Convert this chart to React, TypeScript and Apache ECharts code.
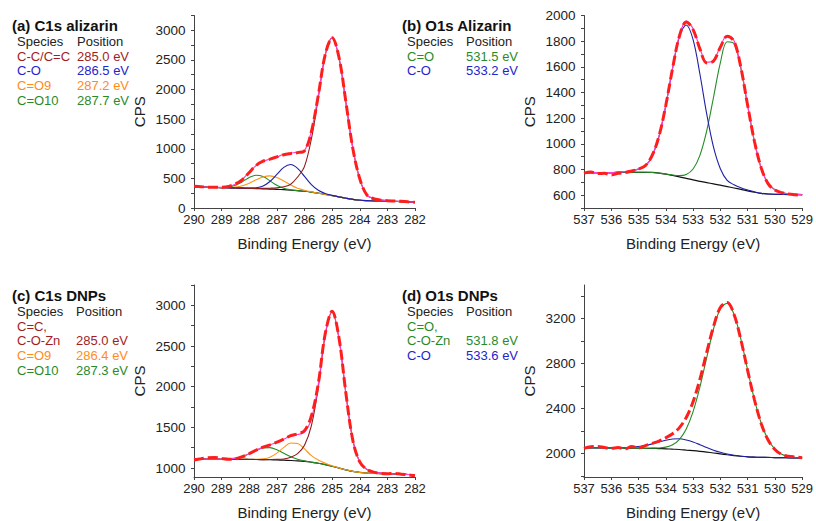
import React, { useEffect, useRef } from "react";
import * as echarts from "echarts";

const FONT = '"Liberation Sans", Arial, Helvetica, sans-serif';

// Binding energies (eV)
const beC1s = [290, 289.75, 289.5, 289.25, 289, 288.75, 288.5, 288.25, 288, 287.75, 287.5, 287.25, 287, 286.75, 286.5, 286.25, 286, 285.75, 285.5, 285.25, 285, 284.75, 284.5, 284.25, 284, 283.75, 283.5, 283.25, 283, 282.75, 282.5, 282.25, 282];
const beO1s = [537, 536.75, 536.5, 536.25, 536, 535.75, 535.5, 535.25, 535, 534.75, 534.5, 534.25, 534, 533.75, 533.5, 533.25, 533, 532.75, 532.5, 532.25, 532, 531.75, 531.5, 531.25, 531, 530.75, 530.5, 530.25, 530, 529.75, 529.5, 529.25, 529];

// (a) C1s alizarin
const bgA = [356, 353, 350, 347, 344, 341, 338, 335, 332, 328, 324, 320, 315, 309, 302, 293, 283, 268, 250, 230, 210, 188, 165, 145, 132, 125, 121, 118, 116, 112, 108, 103, 98];
const ccA = [356, 353, 350, 347, 344, 341, 338, 335, 332, 332, 332, 334, 340, 359, 402, 523, 703, 1168, 1863, 2577, 2870, 2535, 1778, 1009, 492, 220, 161, 136, 124, 116, 110, 103, 98];
const coA = [356, 353, 350, 347, 344, 341, 338, 335, 335, 342, 373, 448, 566, 686, 734, 670, 534, 396, 299, 244, 213, 188, 165, 145, 132, 125, 121, 118, 116, 112, 108, 103, 98];
const o9A = [356, 353, 350, 347, 344, 346, 355, 377, 419, 475, 525, 543, 516, 456, 389, 335, 300, 273, 250, 230, 210, 188, 165, 145, 132, 125, 121, 118, 116, 112, 108, 103, 98];
const o10A = [356, 353, 350, 347, 347, 356, 385, 443, 514, 554, 530, 458, 383, 333, 308, 293, 283, 268, 250, 230, 210, 188, 165, 145, 132, 125, 121, 118, 116, 112, 108, 103, 98];
const envA = [356, 353, 350, 347, 347, 361, 402, 485, 604, 719, 788, 823, 860, 907, 927, 942, 971, 1301, 1912, 2591, 2873, 2535, 1778, 1009, 492, 220, 161, 136, 124, 116, 110, 103, 98];
const rawA = [367, 360, 352, 350, 352, 365, 405, 480, 600, 720, 790, 825, 862, 900, 920, 935, 965, 1290, 1905, 2590, 2875, 2540, 1785, 1005, 495, 225, 158, 135, 122, 118, 112, 104, 96];

// (b) O1s alizarin
const bgB = [775, 775, 775, 776, 776, 777, 777, 778, 778, 778, 777, 772, 764, 754, 743, 731, 719, 708, 698, 688, 678, 667, 656, 645, 634, 623, 614, 609, 607, 606, 605, 605, 604];
const coB = [775, 775, 775, 776, 776, 780, 783, 790, 803, 826, 905, 1058, 1299, 1590, 1836, 1926, 1812, 1544, 1233, 974, 806, 715, 681, 657, 640, 626, 614, 609, 607, 606, 605, 605, 604];
const oB = [775, 775, 775, 776, 776, 777, 777, 778, 778, 778, 777, 772, 765, 757, 752, 761, 804, 910, 1101, 1363, 1631, 1796, 1781, 1588, 1298, 1016, 810, 691, 642, 621, 610, 607, 604];
const envB = [775, 775, 775, 776, 776, 780, 783, 790, 803, 826, 905, 1058, 1300, 1593, 1845, 1956, 1897, 1746, 1636, 1649, 1759, 1844, 1806, 1600, 1304, 1019, 810, 691, 642, 621, 610, 607, 604];
const rawB = [772, 780, 768, 770, 758, 770, 776, 788, 804, 830, 910, 1060, 1300, 1590, 1840, 1950, 1890, 1740, 1630, 1645, 1752, 1838, 1800, 1598, 1300, 1020, 812, 690, 640, 620, 610, 603, 596];

// (c) C1s DNPs
const bgC = [1110, 1110, 1109, 1109, 1108, 1108, 1107, 1107, 1106, 1105, 1104, 1102, 1100, 1097, 1093, 1088, 1081, 1071, 1059, 1042, 1022, 1000, 978, 959, 946, 939, 935, 932, 930, 927, 924, 921, 918];
const ccC = [1110, 1110, 1109, 1109, 1108, 1108, 1107, 1107, 1106, 1105, 1104, 1105, 1107, 1112, 1133, 1178, 1281, 1521, 1993, 2630, 2918, 2588, 1912, 1344, 1076, 984, 953, 940, 933, 928, 924, 921, 918];
const o9C = [1110, 1110, 1109, 1109, 1108, 1108, 1107, 1107, 1106, 1107, 1113, 1134, 1183, 1254, 1308, 1302, 1235, 1152, 1099, 1060, 1028, 1002, 978, 959, 946, 939, 935, 932, 930, 927, 924, 921, 918];
const o10C = [1110, 1110, 1109, 1109, 1110, 1113, 1121, 1142, 1176, 1216, 1248, 1251, 1225, 1182, 1139, 1108, 1088, 1073, 1059, 1042, 1022, 1000, 978, 959, 946, 939, 935, 932, 930, 927, 924, 921, 918];
const envC = [1110, 1110, 1109, 1109, 1110, 1113, 1121, 1142, 1176, 1218, 1257, 1286, 1315, 1354, 1394, 1412, 1442, 1604, 2033, 2648, 2924, 2590, 1912, 1344, 1076, 984, 953, 940, 933, 928, 924, 921, 918];
const rawC = [1098, 1115, 1128, 1130, 1118, 1108, 1115, 1140, 1178, 1220, 1258, 1285, 1318, 1356, 1398, 1420, 1460, 1640, 2040, 2650, 2928, 2595, 1915, 1340, 1075, 985, 950, 935, 930, 935, 925, 915, 906];

// (d) O1s DNPs
const bgD = [2050, 2050, 2050, 2050, 2049, 2049, 2048, 2048, 2047, 2046, 2045, 2043, 2041, 2038, 2035, 2030, 2025, 2019, 2012, 2004, 1996, 1988, 1981, 1975, 1970, 1967, 1965, 1964, 1963, 1962, 1961, 1960, 1959];
const oD = [2050, 2050, 2050, 2050, 2049, 2049, 2048, 2048, 2047, 2046, 2047, 2048, 2056, 2077, 2126, 2218, 2372, 2591, 2854, 3108, 3289, 3338, 3239, 3020, 2745, 2480, 2268, 2123, 2038, 1993, 1973, 1964, 1960];
const coD = [2050, 2050, 2050, 2050, 2049, 2050, 2051, 2055, 2061, 2071, 2085, 2102, 2118, 2128, 2130, 2120, 2102, 2078, 2052, 2029, 2010, 1995, 1984, 1975, 1970, 1967, 1965, 1964, 1963, 1962, 1961, 1960, 1959];
const rawD = [2045, 2060, 2062, 2052, 2046, 2052, 2040, 2062, 2048, 2070, 2090, 2110, 2140, 2175, 2230, 2320, 2460, 2660, 2900, 3130, 3300, 3345, 3240, 3015, 2740, 2478, 2265, 2120, 2035, 1990, 1975, 1968, 1962];

// Tick labels
const yLabelsA = [0, 500, 1000, 1500, 2000, 2500, 3000];
const yTicksA = [0, 250, 500, 750, 1000, 1250, 1500, 1750, 2000, 2250, 2500, 2750, 3000, 3250];
const yLabelsB = [600, 800, 1000, 1200, 1400, 1600, 1800, 2000];
const yTicksB = [500, 600, 700, 800, 900, 1000, 1100, 1200, 1300, 1400, 1500, 1600, 1700, 1800, 1900, 2000];
const yLabelsC = [1000, 1500, 2000, 2500, 3000];
const yTicksC = [1000, 1250, 1500, 1750, 2000, 2250, 2500, 2750, 3000, 3250];
const yLabelsD = [2000, 2400, 2800, 3200];
const yTicksD = [1800, 2000, 2200, 2400, 2600, 2800, 3000, 3200, 3400];

// Legend tables
const tableA = [["C-C/C=C", "285.0 eV", "label_brown"], ["C-O", "286.5 eV", "label_blue"], ["C=O9", "287.2 eV", "label_orange"], ["C=O10", "287.7 eV", "label_green"]];
const tableB = [["C=O", "531.5 eV", "label_green"], ["C-O", "533.2 eV", "label_blue"]];
const tableC = [["C=C,", "", "label_brown"], ["C-O-Zn", "285.0 eV", "label_brown"], ["C=O9", "286.4 eV", "label_orange"], ["C=O10", "287.3 eV", "label_green"]];
const tableD = [["C=O,", "", "label_green"], ["C-O-Zn", "531.8 eV", "label_green"], ["C-O", "533.6 eV", "label_blue"]];

const COL: Record<string, string> = {
  brown: "#8c1c1c",
  blue: "#1f1fa6",
  orange: "#ff9414",
  green: "#258c25",
  pink: "#ff3dcc",
  red: "#ff1e1e",
  black: "#111111",
  label_brown: "#a21e1e",
  label_blue: "#2424cc",
  label_orange: "#ff8c1a",
  label_green: "#2a8a2a",
};

const pairs = (xs: number[], ys: number[]) => xs.map((x, i) => [x, ys[i]]);

function ln(idx: number, xs: number[], ys: number[], color: string, width: number, z: number, dashed = false) {
  return {
    type: "line",
    xAxisIndex: idx,
    yAxisIndex: idx,
    data: pairs(xs, ys),
    symbol: "none",
    showSymbol: false,
    smooth: 0.35,
    silent: true,
    z,
    lineStyle: {
      color,
      width,
      type: dashed ? [10, 4] : "solid",
      cap: "butt",
    },
  };
}

const GRIDS = [
  { left: 194, top: 15.5, width: 221, height: 192.5 },
  { left: 584, top: 15.5, width: 221, height: 192.5 },
  { left: 194, top: 285, width: 221, height: 192.5 },
  { left: 584, top: 285, width: 221, height: 192.5 },
];

const plain = (v: number) => String(v);

function xAx(idx: number, min: number, max: number) {
  return {
    gridIndex: idx,
    type: "value",
    min,
    max,
    interval: 1,
    inverse: true,
    axisLine: { show: true, onZero: false, lineStyle: { color: "#444", width: 1 } },
    axisTick: { show: true, inside: false, length: 3, lineStyle: { color: "#444" } },
    axisLabel: { color: "#222", fontSize: 13, fontFamily: FONT, margin: 5, formatter: plain },
    splitLine: { show: false },
    name: "Binding Energy (eV)",
    nameLocation: "middle",
    nameGap: 28,
    nameTextStyle: { color: "#222", fontSize: 15, fontFamily: FONT },
  };
}

function yAx(idx: number, min: number, max: number, labels: number[], ticks: number[]) {
  return {
    gridIndex: idx,
    type: "value",
    min,
    max,
    axisLine: { show: true, onZero: false, lineStyle: { color: "#444", width: 1 } },
    axisTick: { show: true, inside: false, length: 3, customValues: ticks, lineStyle: { color: "#444" } },
    axisLabel: { color: "#222", fontSize: 13.5, fontFamily: FONT, margin: 8.5, customValues: labels, formatter: plain },
    splitLine: { show: false },
    name: "CPS",
    nameLocation: "middle",
    nameGap: 47,
    nameRotate: 90,
    nameTextStyle: { color: "#222", fontSize: 15, fontFamily: FONT },
  };
}

function table(title: string, x0: number, x1: number, yTitle: number, rows: string[][]) {
  const els: any[] = [];
  els.push({
    type: "text",
    x: x0 - 5,
    y: yTitle,
    style: { text: title, fill: "#111", font: `bold 15px ${FONT}`, verticalAlign: "middle", align: "left" },
  });
  const step = 14.7;
  const yHead = yTitle + 16.5;
  els.push({ type: "text", x: x0, y: yHead, style: { text: "Species", fill: "#222", font: `13px ${FONT}`, verticalAlign: "middle" } });
  els.push({ type: "text", x: x1, y: yHead, style: { text: "Position", fill: "#222", font: `13px ${FONT}`, verticalAlign: "middle" } });
  rows.forEach((r, i) => {
    const y = yHead + step * (i + 1);
    const c = COL[r[2]];
    els.push({ type: "text", x: x0, y, style: { text: r[0], fill: c, font: `13px ${FONT}`, verticalAlign: "middle" } });
    if (r[1]) els.push({ type: "text", x: x1, y, style: { text: r[1], fill: c, font: `13px ${FONT}`, verticalAlign: "middle" } });
  });
  return els;
}

export default function App() {
  const ref = useRef<HTMLDivElement>(null);
  useEffect(() => {
    if (!ref.current) return;
    const chart = echarts.init(ref.current, null, { renderer: "svg" });
    const option: any = {
      animation: false,
      backgroundColor: "#ffffff",
      grid: GRIDS,
      xAxis: [xAx(0, 282, 290), xAx(1, 529, 537), xAx(2, 282, 290), xAx(3, 529, 537)],
      yAxis: [
        yAx(0, 0, 3250, yLabelsA, yTicksA),
        yAx(1, 500, 2000, yLabelsB, yTicksB),
        yAx(2, 890, 3250, yLabelsC, yTicksC),
        yAx(3, 1790, 3500, yLabelsD, yTicksD),
      ],
      series: [
        ln(0, beC1s, bgA, COL.black, 1.2, 2),
        ln(0, beC1s, o10A, COL.green, 1.1, 3),
        ln(0, beC1s, o9A, COL.orange, 1.1, 3),
        ln(0, beC1s, coA, COL.blue, 1.1, 3),
        ln(0, beC1s, ccA, COL.brown, 1.1, 3),
        ln(0, beC1s, envA, COL.pink, 1.2, 4),
        ln(0, beC1s, rawA, COL.red, 3, 5, true),

        ln(1, beO1s, bgB, COL.black, 1.2, 2),
        ln(1, beO1s, oB, COL.green, 1.1, 3),
        ln(1, beO1s, coB, COL.blue, 1.1, 3),
        ln(1, beO1s, envB, COL.pink, 1.2, 4),
        ln(1, beO1s, rawB, COL.red, 3, 5, true),

        ln(2, beC1s, bgC, COL.black, 1.2, 2),
        ln(2, beC1s, o10C, COL.green, 1.1, 3),
        ln(2, beC1s, o9C, COL.orange, 1.1, 3),
        ln(2, beC1s, ccC, COL.brown, 1.1, 3),
        ln(2, beC1s, envC, COL.pink, 1.2, 4),
        ln(2, beC1s, rawC, COL.red, 3, 5, true),

        ln(3, beO1s, bgD, COL.black, 1.2, 2),
        ln(3, beO1s, coD, COL.blue, 1.1, 3),
        ln(3, beO1s, oD, COL.green, 1.1, 3),
        ln(3, beO1s, rawD, COL.red, 3, 5, true),
      ],
      graphic: [
        ...table("(a) C1s alizarin", 17, 77, 25, tableA),
        ...table("(b) O1s Alizarin", 407, 466, 25, tableB),
        ...table("(c) C1s DNPs", 17, 76, 295, tableC),
        ...table("(d) O1s DNPs", 407, 466, 295, tableD),
      ],
    };
    chart.setOption(option);
    return () => chart.dispose();
  }, []);
  return (
    <div
      ref={ref}
      style={{ position: "fixed", left: 0, top: 0, width: 816, height: 521, background: "#fff" }}
    />
  );
}
